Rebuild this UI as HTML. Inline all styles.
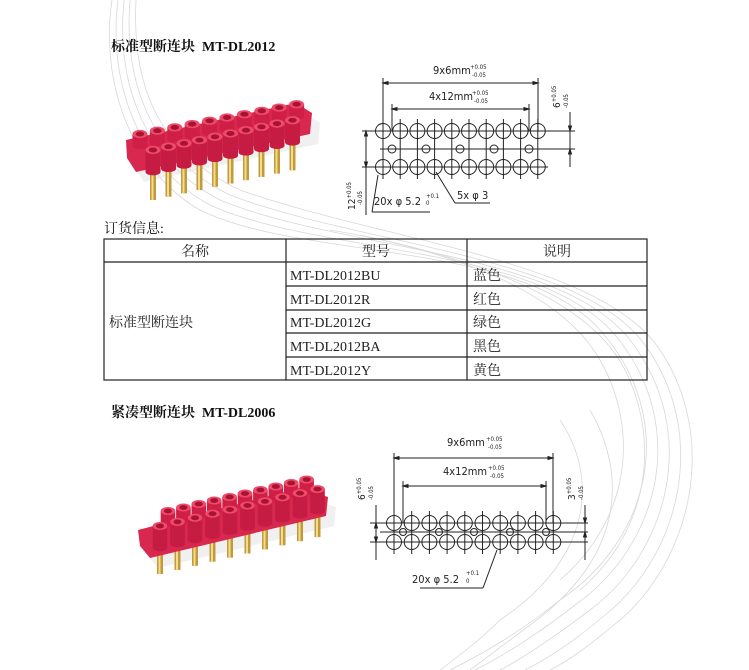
<!DOCTYPE html>
<html><head><meta charset="utf-8">
<style>
html,body{margin:0;padding:0;background:#fff;}
body{width:749px;height:670px;position:relative;overflow:hidden;font-family:"Liberation Serif","Noto Serif CJK SC","Noto Sans CJK SC",serif;color:#111;}
.t{position:absolute;white-space:nowrap;}
.h{font-weight:bold;font-size:14px;}
svg{position:absolute;left:0;top:0;}
</style></head><body>
<svg width="749" height="670" viewBox="0 0 749 670" id="bg">
<g fill="none" stroke="#d8d8d8" stroke-width="0.8">
<path d="M112 0 C100 80 130 170 200 210 C300 260 520 240 600 330 C680 420 650 540 560 600 C510 640 470 660 450 670"/>
<path d="M118 0 C108 80 136 165 210 205 C320 255 540 245 615 335 C690 425 660 545 575 605 C530 640 495 660 475 670"/>
<path d="M124 0 C116 80 142 160 220 200 C340 250 560 250 630 340 C700 430 670 550 590 610 C550 640 520 660 500 670"/>
<path d="M130 0 C124 80 148 155 230 195 C360 245 580 255 645 345 C710 435 680 555 605 615 C570 645 545 660 525 670"/>
<path d="M136 0 C132 80 154 150 240 190 C380 240 600 260 660 350 C720 440 690 560 620 620 C590 645 570 660 550 670"/>
<path d="M330 230 C450 250 560 290 600 360 C640 430 630 520 560 580"/>
<path d="M360 235 C480 260 590 300 625 370 C660 440 650 530 580 590"/>
<path d="M560 420 C600 480 590 560 500 620 C480 640 460 655 440 670"/>
<path d="M590 410 C630 480 620 560 530 625 C510 640 490 655 470 670"/>
</g>
</svg>

<div class="t h" style="left:111px;top:36px;">标准型断连块&nbsp; MT-DL2012</div>
<div class="t h" style="left:111px;top:402px;">紧凑型断连块&nbsp; MT-DL2006</div>
<div class="t" style="left:104px;top:218px;font-size:14px;">订货信息:</div>

<svg width="749" height="670" viewBox="0 0 749 670" id="main">
<g id="prod1"></g>
<g id="prod2"></g>
<g stroke="#222" stroke-width="1.2" fill="none">
<rect x="104" y="239" width="543" height="141"/>
<line x1="286" y1="239" x2="286" y2="380"/>
<line x1="467" y1="239" x2="467" y2="380"/>
<line x1="104" y1="262" x2="647" y2="262"/>
<line x1="286" y1="286" x2="647" y2="286"/>
<line x1="286" y1="310" x2="647" y2="310"/>
<line x1="286" y1="333" x2="647" y2="333"/>
<line x1="286" y1="357" x2="647" y2="357"/>
</g>
<g font-family="Liberation Serif,Noto Serif CJK SC,serif" font-size="14" fill="#222">
<text x="195" y="256" text-anchor="middle">名称</text>
<text x="376" y="256" text-anchor="middle">型号</text>
<text x="557" y="256" text-anchor="middle">说明</text>
<text x="109" y="327">标准型断连块</text>
<text x="290" y="280">MT-DL2012BU</text>
<text x="290" y="304">MT-DL2012R</text>
<text x="290" y="327">MT-DL2012G</text>
<text x="290" y="351">MT-DL2012BA</text>
<text x="290" y="375">MT-DL2012Y</text>
<text x="473" y="280">蓝色</text>
<text x="473" y="304">红色</text>
<text x="473" y="327">绿色</text>
<text x="473" y="351">黑色</text>
<text x="473" y="375">黄色</text>
</g>
<g id="d1" stroke="#222" stroke-width="1" fill="none"></g>
<g id="d2" stroke="#222" stroke-width="1" fill="none"></g>
<g font-family="DejaVu Sans Condensed,Liberation Sans,sans-serif" fill="#222">
<text x="433" y="74" font-size="11">9x6mm</text><text x="470" y="69" font-size="6">+0.05</text><text x="472" y="77" font-size="6">-0.05</text>
<text x="429" y="100" font-size="11">4x12mm</text><text x="472" y="95" font-size="6">+0.05</text><text x="474" y="103" font-size="6">-0.05</text>
<text transform="translate(560,108) rotate(-90)" font-size="10">6<tspan font-size="6" dy="-4">+0.05</tspan></text>
<text transform="translate(568,108) rotate(-90)" font-size="6">-0.05</text>
<text transform="translate(355,210) rotate(-90)" font-size="10">12<tspan font-size="6" dy="-4">+0.05</tspan></text>
<text transform="translate(362,205) rotate(-90)" font-size="6">-0.05</text>
<text x="374" y="205" font-size="11">20x φ 5.2</text><text x="426" y="198" font-size="6">+0.1</text><text x="426" y="205" font-size="6">0</text>
<text x="457" y="199" font-size="11">5x φ 3</text>
<text x="447" y="446" font-size="11">9x6mm</text><text x="486" y="441" font-size="6">+0.05</text><text x="488" y="449" font-size="6">-0.05</text>
<text x="443" y="475" font-size="11">4x12mm</text><text x="488" y="470" font-size="6">+0.05</text><text x="490" y="478" font-size="6">-0.05</text>
<text transform="translate(365,500) rotate(-90)" font-size="10">6<tspan font-size="6" dy="-4">+0.05</tspan></text>
<text transform="translate(373,500) rotate(-90)" font-size="6">-0.05</text>
<text transform="translate(575,500) rotate(-90)" font-size="10">3<tspan font-size="6" dy="-4">+0.05</tspan></text>
<text transform="translate(583,500) rotate(-90)" font-size="6">-0.05</text>
<text x="412" y="583" font-size="11">20x φ 5.2</text><text x="466" y="575" font-size="6">+0.1</text><text x="466" y="583" font-size="6">0</text>
</g>
</svg>
<script>
var NS="http://www.w3.org/2000/svg";
function el(p,t,a){var e=document.createElementNS(NS,t);for(var k in a)e.setAttribute(k,a[k]);p.appendChild(e);return e;}
function line(g,x1,y1,x2,y2){el(g,"line",{x1:x1,y1:y1,x2:x2,y2:y2});}
function arrow(g,x,y,dx,dy){var px=-dy,py=dx;el(g,"polygon",{points:x+","+y+" "+(x-dx*5+px*1.5)+","+(y-dy*5+py*1.5)+" "+(x-dx*5-px*1.5)+","+(y-dy*5-py*1.5),fill:"#222"});}
var g=document.getElementById("d1");
var x0=383,sp=17.2,yt=131,yb=167,ym=149;
for(var i=0;i<10;i++){var x=x0+sp*i;
 el(g,"circle",{cx:x,cy:yt,r:7.5});el(g,"circle",{cx:x,cy:yb,r:7.5});
 line(g,x,yt-12,x,yb+12);}
line(g,362,yt,548,yt);line(g,362,yb,548,yb);line(g,380,ym,575,ym);line(g,545,yt,575,yt);
[392,426,460,494,529].forEach(function(x){el(g,"circle",{cx:x,cy:ym,r:4});});
line(g,383,78,383,yt);line(g,538,78,538,yt);line(g,383,83,538,83);arrow(g,383,83,-1,0);arrow(g,538,83,1,0);
line(g,392,104,392,yt);line(g,529,104,529,yt);line(g,392,109,529,109);arrow(g,392,109,-1,0);arrow(g,529,109,1,0);
line(g,570,112,570,167);arrow(g,570,yt,0,1);arrow(g,570,ym,0,-1);
line(g,366,yt,366,215);arrow(g,366,yt,0,-1);arrow(g,366,yb,0,1);
line(g,378,175,372,212);line(g,372,212,430,212);
line(g,436,172,455,203);line(g,455,203,490,203);
g=document.getElementById("d2");
x0=394;sp=17.7;yt=523;yb=542;ym=532;
for(var i=0;i<10;i++){var x=x0+sp*i;
 el(g,"circle",{cx:x,cy:yt,r:7.5});el(g,"circle",{cx:x,cy:yb,r:7.5});
 line(g,x,yt-12,x,yb+12);}
line(g,370,yt,588,yt);line(g,370,yb,588,yb);line(g,380,ym,588,ym);
[403,439,474,510,546].forEach(function(x){el(g,"circle",{cx:x,cy:ym,r:3.5});});
line(g,394,453,394,yt);line(g,553,453,553,yt);line(g,394,458,553,458);arrow(g,394,458,-1,0);arrow(g,553,458,1,0);
line(g,403,481,403,yt);line(g,546,481,546,yt);line(g,403,486,546,486);arrow(g,403,486,-1,0);arrow(g,546,486,1,0);
line(g,376,505,376,560);arrow(g,376,yt,0,-1);arrow(g,376,yb,0,1);
line(g,585,505,585,560);arrow(g,585,yt,0,1);arrow(g,585,ym,0,-1);
line(g,497,550,483,588);line(g,483,588,420,588);

function prod(id,b,f,plate,pin,r){
 var g=document.getElementById(id);
 el(g,"polygon",{points:plate,fill:"#e6e6e6",transform:"translate(8,10)",opacity:"0.6"});
 [[b,pin-14],[f,pin]].forEach(function(rw){var p=rw[0];
 for(var i=0;i<10;i++){var x=p[0]+p[2]*i,y=p[1]+p[3]*i;
  el(g,"rect",{x:x-3,y:y+18,width:6,height:rw[1],fill:"#c29a3c"});
  el(g,"rect",{x:x-1.5,y:y+18,width:2,height:rw[1],fill:"#f3dc8c"});}});
 el(g,"polygon",{points:plate,fill:"#d92850"});
 function post(x,y,h,col){
  el(g,"rect",{x:x-r,y:y,width:2*r,height:h,fill:col});
  el(g,"ellipse",{cx:x,cy:y+h,rx:r,ry:r*0.45,fill:col});
  el(g,"ellipse",{cx:x,cy:y,rx:r,ry:r*0.55,fill:"#ee4a6c"});
  el(g,"ellipse",{cx:x,cy:y,rx:r*0.55,ry:r*0.33,fill:"#a8132f"});}
 for(var i=0;i<10;i++)post(b[0]+b[2]*i,b[1]+b[3]*i,12,"#cf1f47");
 for(var i=0;i<10;i++)post(f[0]+f[2]*i,f[1]+f[3]*i,22,"#c61b42");
}
prod("prod1",[140,134,17.4,-3.3],[153,150,15.5,-3.3],"126,140 296,103 312,113 310,134 136,172 127,158",32,7.5);
prod("prod2",[168,511,15.4,-3.5],[160,526,17.5,-4.1],"138,530 300,488 328,497 326,516 150,558 140,546",30,7.3);
</script>
</body></html>
